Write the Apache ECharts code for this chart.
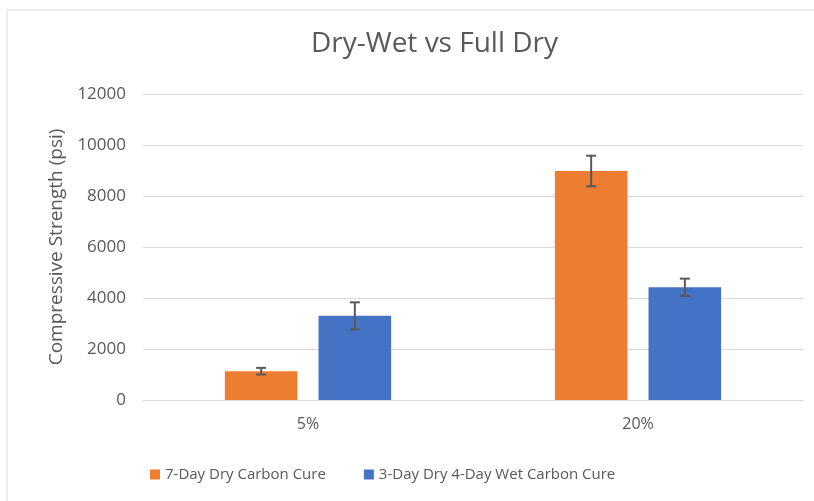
<!DOCTYPE html>
<html>
<head>
<meta charset="utf-8">
<script src="https://cdn.jsdelivr.net/npm/echarts@6/dist/echarts.min.js"></script>
<style>
    html, body { margin: 0; padding: 0; background: #fff; }
    #chart { width: 814px; height: 501px; }
</style>
</head>
<body>
<div id="chart"></div>
<script>
var categories = ['5%', '20%'];
var seriesNames = ['7-Day Dry Carbon Cure', '3-Day Dry 4-Day Wet Carbon Cure'];
var dryValues = [1130, 8980];
var dryErrors = [130, 600];
var wetValues = [3300, 4420];
var wetErrors = [530, 340];
var colors = ['#ed7d31', '#4472c4'];

function errorData(values, errors) {
    var out = [];
    for (var i = 0; i < values.length; i++) {
        out.push([i, values[i] - errors[i], values[i] + errors[i]]);
    }
    return out;
}

function errorRender(shift) {
    return function (params, api) {
        var x = api.value(0);
        var band = api.size([1, 0])[0];
        var low = api.coord([x, api.value(1)]);
        var high = api.coord([x, api.value(2)]);
        var cx = low[0] + band * shift;
        var half = 5;
        var style = { stroke: '#595959', lineWidth: 2 };
        return {
            type: 'group',
            children: [
                { type: 'line', shape: { x1: cx, y1: high[1], x2: cx, y2: low[1] }, style: style },
                { type: 'line', shape: { x1: cx - half, y1: high[1], x2: cx + half, y2: high[1] }, style: style },
                { type: 'line', shape: { x1: cx - half, y1: low[1], x2: cx + half, y2: low[1] }, style: style }
            ]
        };
    };
}

var chart = echarts.init(document.getElementById('chart'));
var font = '"Open Sans", "Noto Sans", sans-serif';
var option = {
    animation: false,
    textStyle: { fontFamily: font },
    graphic: [{
        type: 'rect',
        shape: { x: 7, y: 10, width: 830, height: 520 },
        style: { fill: 'none', stroke: '#d9d9d9', lineWidth: 1 },
        silent: true
    }],
    title: {
        text: 'Dry-Wet vs Full Dry',
        left: 306,
        top: 25,
        textStyle: { fontFamily: font, fontSize: 28, fontWeight: 'normal', color: '#595959' }
    },
    legend: {
        data: seriesNames,
        left: 145,
        top: 462,
        itemWidth: 10,
        itemHeight: 10,
        itemGap: 38,
        icon: 'rect',
        textStyle: { fontFamily: font, fontSize: 15, color: '#595959' }
    },
    grid: { left: 143, right: 11, top: 94, bottom: 101 },
    xAxis: {
        type: 'category',
        data: categories,
        axisLine: { lineStyle: { color: '#d9d9d9', width: 1 } },
        axisTick: { show: false },
        axisLabel: { fontFamily: font, fontSize: 16, color: '#595959', margin: 16 }
    },
    yAxis: {
        type: 'value',
        min: 0,
        max: 12000,
        interval: 2000,
        name: 'Compressive Strength (psi)',
        nameLocation: 'middle',
        nameGap: 72,
        nameTextStyle: { fontFamily: font, fontSize: 19, color: '#595959' },
        axisLine: { show: false },
        axisTick: { show: false },
        axisLabel: {
            fontFamily: font, fontSize: 17, color: '#595959', margin: 17,
            formatter: function (v) { return String(v); }
        },
        splitLine: { lineStyle: { color: '#d9d9d9', width: 1 } }
    },
    series: [{
        name: seriesNames[0],
        type: 'bar',
        data: dryValues,
        barWidth: '22%',
        barGap: '29%',
        itemStyle: { color: colors[0] }
    }, {
        name: seriesNames[1],
        type: 'bar',
        data: wetValues,
        barWidth: '22%',
        itemStyle: { color: colors[1] }
    }, {
        type: 'custom',
        name: 'dry-error',
        renderItem: errorRender(-0.142),
        data: errorData(dryValues, dryErrors),
        encode: { x: 0, y: [1, 2] },
        z: 10
    }, {
        type: 'custom',
        name: 'wet-error',
        renderItem: errorRender(0.142),
        data: errorData(wetValues, wetErrors),
        encode: { x: 0, y: [1, 2] },
        z: 10
    }]
};
chart.setOption(option);
</script>
</body>
</html>
